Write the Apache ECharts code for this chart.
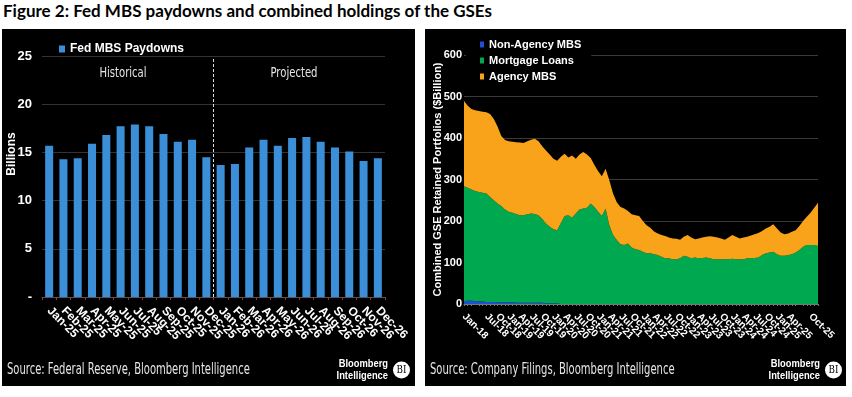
<!DOCTYPE html>
<html>
<head>
<meta charset="utf-8">
<script src="https://cdn.jsdelivr.net/npm/echarts@6/dist/echarts.min.js"></script>
<style>
  html, body { margin: 0; padding: 0; background: #fff; width: 852px; height: 397px; overflow: hidden; }
  #title { position: absolute; left: 3px; top: 0px; font: bold 17px Lato, 'Open Sans', sans-serif; color: #000; white-space: nowrap; }
  #left { position: absolute; left: 2px; top: 29px; width: 413px; height: 357px; background: #000; }
  #right { position: absolute; left: 425px; top: 29px; width: 421px; height: 357px; background: #000; }
</style>
</head>
<body>
<div id="title">Figure 2: Fed MBS paydowns and combined holdings of the GSEs</div>
<div id="left"></div>
<div id="right"></div>
<script>
// left chart: Fed MBS paydowns (billions)
var paydownMonths = ['Jan-25', 'Feb-25', 'Mar-25', 'Apr-25', 'May-25', 'Jun-25', 'Jul-25', 'Aug-25', 'Sep-25', 'Oct-25', 'Nov-25', 'Dec-25',
  'Jan-26', 'Feb-26', 'Mar-26', 'Apr-26', 'May-26', 'Jun-26', 'Jul-26', 'Aug-26', 'Sep-26', 'Oct-26', 'Nov-26', 'Dec-26'];
var paydowns = [15.7, 14.3, 14.4, 15.9, 16.8, 17.7, 17.9, 17.7, 16.9, 16.1, 16.3, 14.5,
  13.7, 13.8, 15.5, 16.3, 15.7, 16.5, 16.6, 16.1, 15.5, 15.1, 14.1, 14.4];
var splitAt = 12; // historical | projected

// right chart: combined GSE retained portfolios ($bn), monthly Jan-18 .. Dec-25
var monthNames = ['Jan', 'Feb', 'Mar', 'Apr', 'May', 'Jun', 'Jul', 'Aug', 'Sep', 'Oct', 'Nov', 'Dec'];
var holdingMonths = [];
for (var yr = 18; yr <= 25; yr++) {
  for (var mo = 0; mo < 12; mo++) holdingMonths.push(monthNames[mo] + '-' + yr);
}
var nonAgencyMBS = [7, 8, 8, 7, 6, 6, 5, 5, 5, 4, 4, 4,
  4, 4, 3, 3, 3, 3, 3, 3, 3, 3, 2, 2,
  2, 1, 0, 0, 0, 0, 0, 0, 0, 0, 0, 0,
  0, 0, 0, 0, 0, 0, 0, 0, 0, 0, 0, 0,
  0, 0, 0, 0, 0, 0, 0, 0, 0, 0, 0, 0,
  0, 0, 0, 0, 0, 0, 0, 0, 0, 0, 0, 0,
  0, 0, 0, 0, 0, 0, 0, 0, 0, 0, 0, 0,
  0, 0, 0, 0, 0, 0, 0, 0, 0, 0, 0, 0];
var mortgageLoans = [277, 272, 268, 265, 264, 262, 261, 253, 245, 238, 232, 224,
  218, 216, 214, 211, 211, 213, 215, 214, 211, 202, 192, 184,
  178, 177, 195, 212, 214, 208, 218, 228, 230, 232, 242, 234,
  222, 212, 230, 190, 166, 154, 144, 142, 146, 136, 132, 130,
  126, 122, 122, 120, 118, 114, 110, 110, 108, 108, 110, 116,
  114, 110, 112, 110, 111, 112, 110, 108, 108, 108, 108, 108,
  109, 108, 108, 108, 110, 110, 111, 112, 118, 122, 124, 126,
  120, 116, 116, 118, 120, 124, 130, 138, 142, 142, 142, 140];
var agencyMBS = [205, 198, 194, 195, 195, 195, 196, 200, 196, 186, 169, 167,
  170, 171, 173, 175, 174, 176, 178, 181, 178, 175, 176, 174,
  170, 167, 160, 150, 139, 150, 132, 132, 136, 128, 110, 101,
  98, 96, 96, 108, 100, 91, 90, 88, 78, 80, 82, 82,
  74, 68, 62, 55, 52, 52, 54, 50, 50, 49, 45, 46,
  52, 50, 44, 48, 49, 50, 53, 54, 52, 50, 47, 52,
  57, 54, 50, 52, 52, 55, 57, 59, 58, 60, 62, 66,
  62, 56, 52, 52, 54, 54, 58, 62, 68, 78, 90, 104];

var boldFont = "'Liberation Sans', Arial, sans-serif";
var lightFont = "'Liberation Sans Narrow', 'DejaVu Sans Condensed', 'Liberation Sans', sans-serif";

function footer(source, logoRight, circleX) {
  return [
    { type: 'text', x: 5, y: 341, scaleX: 0.74, originX: 0,
      style: { text: source, fill: '#e6e6e6', font: '15px ' + lightFont,
        textAlign: 'left', align: 'left', textVerticalAlign: 'middle', verticalAlign: 'middle' } },
    { type: 'text', x: logoRight, y: 335, scaleX: 0.85, originX: 0,
      style: { text: 'Bloomberg', fill: '#fff', font: 'bold 11px ' + boldFont,
        textAlign: 'right', align: 'right', textVerticalAlign: 'middle', verticalAlign: 'middle' } },
    { type: 'text', x: logoRight, y: 347, scaleX: 0.85, originX: 0,
      style: { text: 'Intelligence', fill: '#fff', font: 'bold 11px ' + boldFont,
        textAlign: 'right', align: 'right', textVerticalAlign: 'middle', verticalAlign: 'middle' } },
    { type: 'circle', shape: { cx: circleX, cy: 341, r: 8.5 }, style: { fill: '#fff' } },
    { type: 'text', x: circleX, y: 341, scaleX: 0.8, originX: 0,
      style: { text: 'BI', fill: '#000', font: '11px "DejaVu Serif", serif',
        textAlign: 'center', align: 'center', textVerticalAlign: 'middle', verticalAlign: 'middle' } }
  ];
}

function everyThird(index) { return index % 3 === 0; }

var leftChart = echarts.init(document.getElementById('left'));
leftChart.setOption({
  backgroundColor: '#000',
  animation: false,
  legend: {
    data: ['Fed MBS Paydowns'],
    left: 52, top: 9,
    itemWidth: 6, itemHeight: 7, icon: 'rect',
    textStyle: { color: '#fff', fontWeight: 'bold', fontSize: 12, fontFamily: boldFont }
  },
  grid: { left: 40, right: 30, top: 27, bottom: 89, containLabel: false, outerBoundsMode: 'none' },
  xAxis: [{
    type: 'category',
    data: paydownMonths,
    axisLine: { lineStyle: { color: '#555' } },
    axisTick: { show: true, length: 3, lineStyle: { color: '#8a3b2a' } },
    axisLabel: { interval: 0, rotate: -45, margin: 12, showMinLabel: true, showMaxLabel: true,
      color: '#fff', fontWeight: 'bold', fontSize: 12, fontFamily: boldFont }
  }, {
    type: 'value', min: 0, max: 24, show: false
  }],
  yAxis: {
    type: 'value', min: 0, max: 25, interval: 5,
    axisLine: { show: false }, axisTick: { show: false },
    splitLine: { lineStyle: { color: '#333' } },
    axisLabel: { color: '#fff', fontWeight: 'bold', fontSize: 13, fontFamily: boldFont, margin: 10,
      formatter: function (v) { return v === 0 ? '-' : v; } }
  },
  graphic: [
    { type: 'text', x: 10, y: 125, rotation: Math.PI / 2,
      style: { text: 'Billions', fill: '#fff', font: 'bold 12px ' + boldFont,
        textAlign: 'center', align: 'center', textVerticalAlign: 'middle', verticalAlign: 'middle' } },
    { type: 'text', x: 121, y: 44, scaleX: 0.8, originX: 0,
      style: { text: 'Historical', fill: '#e6e6e6', font: '14px ' + lightFont,
        textAlign: 'center', align: 'center', textVerticalAlign: 'middle', verticalAlign: 'middle' } },
    { type: 'text', x: 292, y: 44, scaleX: 0.8, originX: 0,
      style: { text: 'Projected', fill: '#e6e6e6', font: '14px ' + lightFont,
        textAlign: 'center', align: 'center', textVerticalAlign: 'middle', verticalAlign: 'middle' } }
  ].concat(footer('Source: Federal Reserve, Bloomberg Intelligence', 386, 399.5)),
  series: [{
    name: 'Fed MBS Paydowns',
    type: 'bar',
    data: paydowns,
    barWidth: 8,
    itemStyle: { color: '#3a8fd8' }
  }, {
    type: 'line',
    xAxisIndex: 1,
    data: [[splitAt, 0], [splitAt, 24.8]],
    symbol: 'none', silent: true,
    lineStyle: { color: '#ddd', width: 1, type: [3, 2] }
  }]
});

var rightChart = echarts.init(document.getElementById('right'));
function areaSeries(name, data, color) {
  return {
    name: name, type: 'line', stack: 'gse', data: data,
    symbol: 'none', showSymbol: false,
    lineStyle: { width: 0 },
    itemStyle: { color: color },
    areaStyle: { color: color, opacity: 1 }
  };
}
rightChart.setOption({
  backgroundColor: '#000',
  animation: false,
  legend: {
    orient: 'vertical', left: 41, top: 6,
    padding: [4, 10, 4, 14],
    backgroundColor: '#000',
    itemWidth: 4, itemHeight: 6, itemGap: 5, icon: 'rect',
    textStyle: { color: '#fff', fontWeight: 'bold', fontSize: 11, fontFamily: boldFont }
  },
  grid: { left: 39, right: 28, top: 26, bottom: 82, containLabel: false, outerBoundsMode: 'none' },
  xAxis: {
    type: 'category', boundaryGap: false,
    data: holdingMonths,
    axisLine: { lineStyle: { color: '#777' } },
    axisTick: { show: true, interval: 0, length: 2, lineStyle: { color: '#777' } },
    axisLabel: { interval: everyThird, rotate: -45, margin: 11, showMinLabel: true, showMaxLabel: true,
      color: '#fff', fontWeight: 'bold', fontSize: 10, fontFamily: boldFont }
  },
  yAxis: {
    type: 'value', min: 0, max: 600, interval: 100,
    name: 'Combined GSE Retained Portfolios ($Billion)',
    nameLocation: 'middle', nameGap: 21, nameMoveOverlap: false,
    nameTextStyle: { color: '#fff', fontWeight: 'bold', fontSize: 11, fontFamily: boldFont },
    axisLine: { show: false }, axisTick: { show: false },
    splitLine: { lineStyle: { color: '#3a3a3a' } },
    axisLabel: { color: '#fff', fontWeight: 'bold', fontSize: 11, fontFamily: boldFont, margin: 2 }
  },
  graphic: footer('Source: Company Filings, Bloomberg Intelligence', 395, 408.5),
  series: [
    areaSeries('Non-Agency MBS', nonAgencyMBS, '#1f4fd1'),
    areaSeries('Mortgage Loans', mortgageLoans, '#00a84f'),
    areaSeries('Agency MBS', agencyMBS, '#f9a31b')
  ]
});
</script>
</body>
</html>
